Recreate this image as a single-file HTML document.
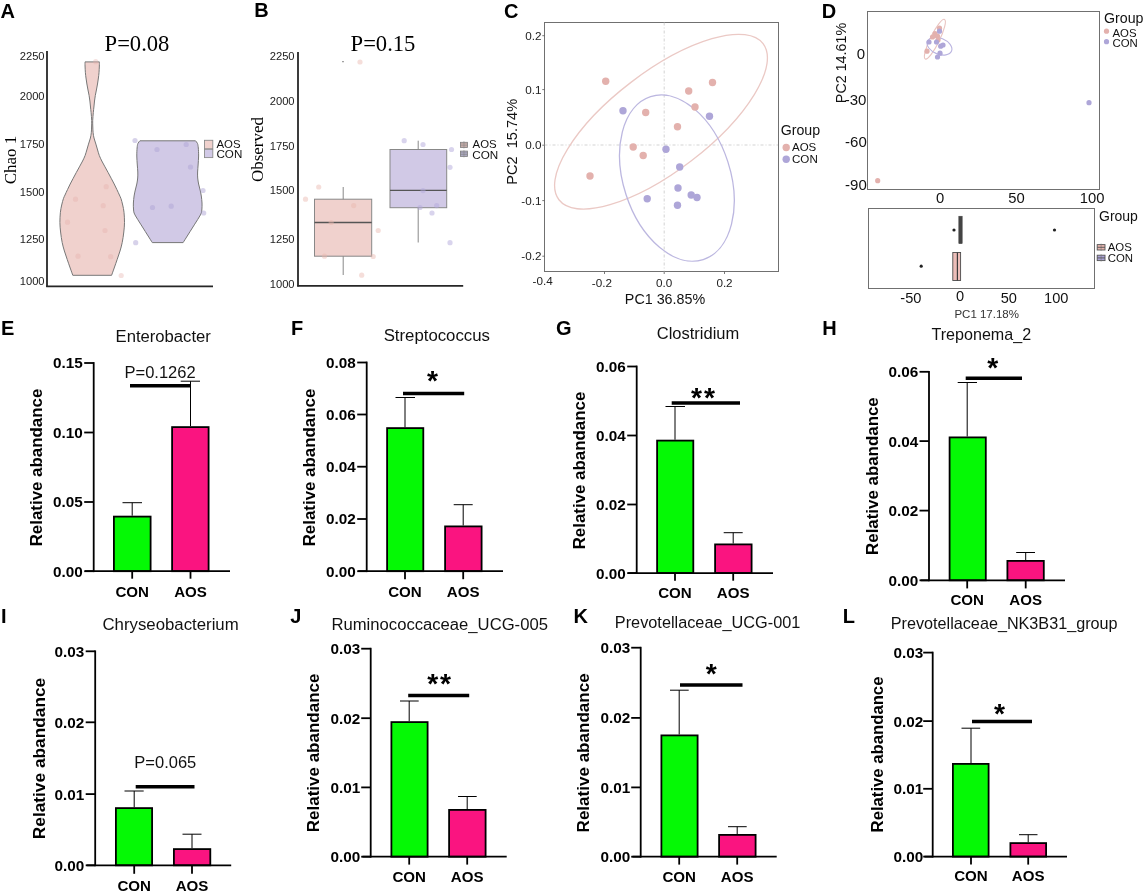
<!DOCTYPE html>
<html lang="en">
<head>
<meta charset="utf-8">
<title>Figure</title>
<style>
html,body{margin:0;padding:0;background:#fff;}
body{width:1143px;height:891px;overflow:hidden;}
svg{display:block;filter:blur(0.35px);}
.ss{font-family:'Liberation Sans', Arial, Helvetica, sans-serif;}
.sf{font-family:'Liberation Serif', 'Times New Roman', serif;}
</style>
</head>
<body>
<svg width="1143" height="891" viewBox="0 0 1143 891">
<rect x="0" y="0" width="1143" height="891" fill="#ffffff"/>
<text class="ss" x="0.50" y="17.50" font-size="20" font-weight="bold" fill="#000">A</text>
<text class="ss" x="254.20" y="17.30" font-size="20" font-weight="bold" fill="#000">B</text>
<text class="ss" x="504.00" y="18.00" font-size="20" font-weight="bold" fill="#000">C</text>
<text class="ss" x="821.70" y="18.00" font-size="20" font-weight="bold" fill="#000">D</text>
<text class="ss" x="1.00" y="335.00" font-size="20" font-weight="bold" fill="#000">E</text>
<text class="ss" x="291.00" y="334.50" font-size="20" font-weight="bold" fill="#000">F</text>
<text class="ss" x="556.00" y="334.90" font-size="20" font-weight="bold" fill="#000">G</text>
<text class="ss" x="822.30" y="335.00" font-size="20" font-weight="bold" fill="#000">H</text>
<text class="ss" x="1.00" y="622.50" font-size="20" font-weight="bold" fill="#000">I</text>
<text class="ss" x="290.30" y="623.00" font-size="20" font-weight="bold" fill="#000">J</text>
<text class="ss" x="573.50" y="622.50" font-size="20" font-weight="bold" fill="#000">K</text>
<text class="ss" x="842.80" y="623.00" font-size="20" font-weight="bold" fill="#000">L</text>
<text class="sf" x="137.00" y="50.70" font-size="22.6" text-anchor="middle" fill="#000">P=0.08</text>
<text class="ss" x="44.60" y="59.80" font-size="11.2" text-anchor="end" fill="#222">2250</text>
<text class="ss" x="44.60" y="99.70" font-size="11.2" text-anchor="end" fill="#222">2000</text>
<text class="ss" x="44.60" y="148.00" font-size="11.2" text-anchor="end" fill="#222">1750</text>
<text class="ss" x="44.60" y="195.60" font-size="11.2" text-anchor="end" fill="#222">1500</text>
<text class="ss" x="44.60" y="243.20" font-size="11.2" text-anchor="end" fill="#222">1250</text>
<text class="ss" x="44.60" y="285.20" font-size="11.2" text-anchor="end" fill="#222">1000</text>
<text class="sf" transform="translate(16.10,160.00) rotate(-90)" font-size="17" text-anchor="middle" fill="#000">Chao 1</text>
<path d="M85.00,61.90 C85.01,62.58 84.98,64.20 85.05,66.00 C85.12,67.80 85.24,70.70 85.40,72.70 C85.56,74.70 85.75,76.12 86.00,78.00 C86.25,79.88 86.57,82.00 86.90,84.00 C87.23,86.00 87.63,88.08 88.00,90.00 C88.37,91.92 88.78,93.67 89.10,95.50 C89.42,97.33 89.67,99.08 89.90,101.00 C90.13,102.92 90.30,105.07 90.50,107.00 C90.70,108.93 90.90,110.35 91.10,112.60 C91.30,114.85 91.62,118.10 91.70,120.50 C91.78,122.90 91.67,124.97 91.60,127.00 C91.53,129.03 91.50,130.87 91.30,132.70 C91.10,134.53 90.87,136.10 90.40,138.00 C89.93,139.90 89.10,142.10 88.50,144.10 C87.90,146.10 87.37,148.10 86.80,150.00 C86.23,151.90 85.80,153.67 85.10,155.50 C84.40,157.33 83.55,159.10 82.60,161.00 C81.65,162.90 80.45,164.98 79.40,166.90 C78.35,168.82 77.33,170.60 76.30,172.50 C75.27,174.40 74.22,176.38 73.20,178.30 C72.18,180.22 71.15,182.12 70.20,184.00 C69.25,185.88 68.37,187.77 67.50,189.60 C66.63,191.43 65.68,193.48 65.00,195.00 C64.32,196.52 63.95,197.03 63.40,198.70 C62.85,200.37 62.20,202.73 61.70,205.00 C61.20,207.27 60.70,209.40 60.40,212.30 C60.10,215.20 59.87,219.12 59.90,222.40 C59.93,225.68 60.22,228.63 60.60,232.00 C60.98,235.37 61.57,239.43 62.20,242.60 C62.83,245.77 63.57,248.20 64.40,251.00 C65.23,253.80 66.23,256.57 67.20,259.40 C68.17,262.23 69.27,265.35 70.20,268.00 C71.13,270.65 72.37,274.08 72.80,275.30 L111.60,275.30 C112.03,274.08 113.27,270.65 114.20,268.00 C115.13,265.35 116.23,262.23 117.20,259.40 C118.17,256.57 119.17,253.80 120.00,251.00 C120.83,248.20 121.57,245.77 122.20,242.60 C122.83,239.43 123.42,235.37 123.80,232.00 C124.18,228.63 124.47,225.68 124.50,222.40 C124.53,219.12 124.30,215.20 124.00,212.30 C123.70,209.40 123.20,207.27 122.70,205.00 C122.20,202.73 121.55,200.37 121.00,198.70 C120.45,197.03 120.08,196.52 119.40,195.00 C118.72,193.48 117.77,191.43 116.90,189.60 C116.03,187.77 115.15,185.88 114.20,184.00 C113.25,182.12 112.22,180.22 111.20,178.30 C110.18,176.38 109.13,174.40 108.10,172.50 C107.07,170.60 106.05,168.82 105.00,166.90 C103.95,164.98 102.75,162.90 101.80,161.00 C100.85,159.10 100.00,157.33 99.30,155.50 C98.60,153.67 98.17,151.90 97.60,150.00 C97.03,148.10 96.50,146.10 95.90,144.10 C95.30,142.10 94.47,139.90 94.00,138.00 C93.53,136.10 93.30,134.53 93.10,132.70 C92.90,130.87 92.87,129.03 92.80,127.00 C92.73,124.97 92.62,122.90 92.70,120.50 C92.78,118.10 93.10,114.85 93.30,112.60 C93.50,110.35 93.70,108.93 93.90,107.00 C94.10,105.07 94.27,102.92 94.50,101.00 C94.73,99.08 94.98,97.33 95.30,95.50 C95.62,93.67 96.03,91.92 96.40,90.00 C96.77,88.08 97.17,86.00 97.50,84.00 C97.83,82.00 98.15,79.88 98.40,78.00 C98.65,76.12 98.84,74.70 99.00,72.70 C99.16,70.70 99.28,67.80 99.35,66.00 C99.42,64.20 99.39,62.58 99.40,61.90 Z" fill="#f0d1cd" stroke="#777" stroke-width="1" stroke-linejoin="round"/>
<path d="M139.90,140.80 C139.57,141.25 138.37,142.30 137.90,143.50 C137.43,144.70 137.28,145.92 137.10,148.00 C136.92,150.08 136.77,153.17 136.80,156.00 C136.83,158.83 137.13,162.33 137.30,165.00 C137.47,167.67 137.73,169.83 137.80,172.00 C137.87,174.17 137.87,176.00 137.70,178.00 C137.53,180.00 137.20,182.00 136.80,184.00 C136.40,186.00 135.75,188.00 135.30,190.00 C134.85,192.00 134.42,193.83 134.10,196.00 C133.78,198.17 133.50,200.83 133.40,203.00 C133.30,205.17 133.38,207.33 133.50,209.00 C133.62,210.67 133.65,211.67 134.10,213.00 C134.55,214.33 135.33,215.50 136.20,217.00 C137.07,218.50 138.15,220.17 139.30,222.00 C140.45,223.83 141.73,225.83 143.10,228.00 C144.47,230.17 145.97,232.57 147.50,235.00 C149.03,237.43 151.50,241.33 152.30,242.60 L183.10,242.60 C183.90,241.33 186.37,237.43 187.90,235.00 C189.43,232.57 190.93,230.17 192.30,228.00 C193.67,225.83 194.95,223.83 196.10,222.00 C197.25,220.17 198.33,218.50 199.20,217.00 C200.07,215.50 200.85,214.33 201.30,213.00 C201.75,211.67 201.78,210.67 201.90,209.00 C202.02,207.33 202.10,205.17 202.00,203.00 C201.90,200.83 201.62,198.17 201.30,196.00 C200.98,193.83 200.55,192.00 200.10,190.00 C199.65,188.00 199.00,186.00 198.60,184.00 C198.20,182.00 197.87,180.00 197.70,178.00 C197.53,176.00 197.53,174.17 197.60,172.00 C197.67,169.83 197.93,167.67 198.10,165.00 C198.27,162.33 198.57,158.83 198.60,156.00 C198.63,153.17 198.48,150.08 198.30,148.00 C198.12,145.92 197.97,144.70 197.50,143.50 C197.03,142.30 195.83,141.25 195.50,140.80 Z" fill="#d1c9e6" stroke="#777" stroke-width="1" stroke-linejoin="round"/>
<circle cx="95.70" cy="61.70" r="2.6" fill="#e6b0aa" opacity="0.38"/>
<circle cx="106.20" cy="186.70" r="2.6" fill="#e6b0aa" opacity="0.38"/>
<circle cx="75.50" cy="199.20" r="2.6" fill="#e6b0aa" opacity="0.38"/>
<circle cx="103.20" cy="205.70" r="2.6" fill="#e6b0aa" opacity="0.38"/>
<circle cx="67.50" cy="222.20" r="2.6" fill="#e6b0aa" opacity="0.38"/>
<circle cx="105.00" cy="230.50" r="2.6" fill="#e6b0aa" opacity="0.38"/>
<circle cx="78.00" cy="256.20" r="2.6" fill="#e6b0aa" opacity="0.38"/>
<circle cx="110.70" cy="256.70" r="2.6" fill="#e6b0aa" opacity="0.38"/>
<circle cx="121.20" cy="275.50" r="2.6" fill="#e6b0aa" opacity="0.38"/>
<circle cx="135.00" cy="140.50" r="2.6" fill="#b0a6d6" opacity="0.5"/>
<circle cx="157.00" cy="149.50" r="2.6" fill="#b0a6d6" opacity="0.5"/>
<circle cx="186.20" cy="144.50" r="2.6" fill="#b0a6d6" opacity="0.5"/>
<circle cx="190.50" cy="167.00" r="2.6" fill="#b0a6d6" opacity="0.5"/>
<circle cx="203.00" cy="190.50" r="2.6" fill="#b0a6d6" opacity="0.5"/>
<circle cx="152.50" cy="207.50" r="2.6" fill="#b0a6d6" opacity="0.5"/>
<circle cx="171.20" cy="206.20" r="2.6" fill="#b0a6d6" opacity="0.5"/>
<circle cx="203.70" cy="213.00" r="2.6" fill="#b0a6d6" opacity="0.5"/>
<circle cx="135.70" cy="242.70" r="2.6" fill="#b0a6d6" opacity="0.5"/>
<line x1="47.00" y1="51.00" x2="47.00" y2="287.00" stroke="#262626" stroke-width="1.8"/>
<line x1="46.20" y1="286.30" x2="213.00" y2="286.30" stroke="#262626" stroke-width="1.8"/>
<rect x="204.50" y="140.30" width="8.30" height="8.50" fill="#f0d1cd" stroke="#8c8c8c" stroke-width="0.9"/>
<rect x="204.50" y="149.30" width="8.30" height="8.30" fill="#d1c9e6" stroke="#8c8c8c" stroke-width="0.9"/>
<text class="ss" x="216.50" y="148.40" font-size="11.4" fill="#111">AOS</text>
<text class="ss" x="216.50" y="157.90" font-size="11.6" fill="#111">CON</text>
<text class="sf" x="383.00" y="50.70" font-size="22.6" text-anchor="middle" fill="#000">P=0.15</text>
<text class="ss" x="294.60" y="59.80" font-size="11.2" text-anchor="end" fill="#222">2250</text>
<text class="ss" x="294.60" y="105.20" font-size="11.2" text-anchor="end" fill="#222">2000</text>
<text class="ss" x="294.60" y="149.70" font-size="11.2" text-anchor="end" fill="#222">1750</text>
<text class="ss" x="294.60" y="193.80" font-size="11.2" text-anchor="end" fill="#222">1500</text>
<text class="ss" x="294.60" y="243.20" font-size="11.2" text-anchor="end" fill="#222">1250</text>
<text class="ss" x="294.60" y="288.20" font-size="11.2" text-anchor="end" fill="#222">1000</text>
<text class="sf" transform="translate(262.80,149.50) rotate(-90)" font-size="17" text-anchor="middle" fill="#000">Observed</text>
<line x1="343.20" y1="187.00" x2="343.20" y2="275.00" stroke="#888" stroke-width="1"/>
<rect x="314.50" y="199.20" width="57.20" height="57.00" fill="#f0d1cd" stroke="#888" stroke-width="1"/>
<line x1="314.50" y1="222.50" x2="371.70" y2="222.50" stroke="#555" stroke-width="1.3"/>
<line x1="418.20" y1="140.70" x2="418.20" y2="242.50" stroke="#888" stroke-width="1"/>
<rect x="390.00" y="149.50" width="56.70" height="58.20" fill="#d1c9e6" stroke="#888" stroke-width="1"/>
<line x1="390.00" y1="190.30" x2="446.70" y2="190.30" stroke="#555" stroke-width="1.3"/>
<circle cx="360.00" cy="62.00" r="2.6" fill="#e9b5ae" opacity="0.45"/>
<circle cx="318.70" cy="187.00" r="2.6" fill="#e9b5ae" opacity="0.45"/>
<circle cx="305.50" cy="199.20" r="2.6" fill="#e9b5ae" opacity="0.45"/>
<circle cx="353.70" cy="205.60" r="2.6" fill="#e9b5ae" opacity="0.45"/>
<circle cx="331.20" cy="222.50" r="2.6" fill="#e9b5ae" opacity="0.45"/>
<circle cx="378.20" cy="230.50" r="2.6" fill="#e9b5ae" opacity="0.45"/>
<circle cx="324.50" cy="256.20" r="2.6" fill="#e9b5ae" opacity="0.45"/>
<circle cx="373.20" cy="256.50" r="2.6" fill="#e9b5ae" opacity="0.45"/>
<circle cx="361.70" cy="275.20" r="2.6" fill="#e9b5ae" opacity="0.45"/>
<circle cx="404.20" cy="140.70" r="2.6" fill="#b3a9dc" opacity="0.5"/>
<circle cx="423.00" cy="144.50" r="2.6" fill="#b3a9dc" opacity="0.5"/>
<circle cx="451.50" cy="149.50" r="2.6" fill="#b3a9dc" opacity="0.5"/>
<circle cx="450.00" cy="167.30" r="2.6" fill="#b3a9dc" opacity="0.5"/>
<circle cx="423.00" cy="190.60" r="2.6" fill="#b3a9dc" opacity="0.5"/>
<circle cx="420.00" cy="207.50" r="2.6" fill="#b3a9dc" opacity="0.5"/>
<circle cx="436.70" cy="205.60" r="2.6" fill="#b3a9dc" opacity="0.5"/>
<circle cx="432.00" cy="213.00" r="2.6" fill="#b3a9dc" opacity="0.5"/>
<circle cx="450.00" cy="242.70" r="2.6" fill="#b3a9dc" opacity="0.5"/>
<circle cx="343.00" cy="61.70" r="0.6" fill="#333"/>
<line x1="298.00" y1="52.00" x2="298.00" y2="286.50" stroke="#262626" stroke-width="1.8"/>
<line x1="297.20" y1="285.80" x2="463.20" y2="285.80" stroke="#262626" stroke-width="1.8"/>
<rect x="460.50" y="142.30" width="6.90" height="5.20" fill="#d9bab6" stroke="#7d7d7d" stroke-width="0.8"/>
<line x1="460.50" y1="144.00" x2="467.40" y2="144.00" stroke="#777" stroke-width="0.6"/>
<line x1="460.50" y1="145.80" x2="467.40" y2="145.80" stroke="#777" stroke-width="0.6"/>
<line x1="463.95" y1="141.20" x2="463.95" y2="148.50" stroke="#888" stroke-width="0.6"/>
<rect x="460.50" y="151.10" width="6.90" height="5.30" fill="#b4b0cc" stroke="#7d7d7d" stroke-width="0.8"/>
<line x1="460.50" y1="152.90" x2="467.40" y2="152.90" stroke="#777" stroke-width="0.6"/>
<line x1="460.50" y1="154.70" x2="467.40" y2="154.70" stroke="#777" stroke-width="0.6"/>
<line x1="463.95" y1="150.10" x2="463.95" y2="157.40" stroke="#888" stroke-width="0.6"/>
<text class="ss" x="472.60" y="148.40" font-size="11.4" fill="#111">AOS</text>
<text class="ss" x="472.30" y="159.00" font-size="11.7" fill="#111">CON</text>
<rect x="544.50" y="22.50" width="234.00" height="249.00" fill="none" stroke="#707070" stroke-width="1"/>
<line x1="664.20" y1="22.50" x2="664.20" y2="271.70" stroke="#c8c8c8" stroke-width="0.8" stroke-dasharray="3,2,1,2"/>
<line x1="544.50" y1="145.00" x2="778.00" y2="145.00" stroke="#c8c8c8" stroke-width="0.8" stroke-dasharray="3,2,1,2"/>
<text class="ss" x="541.40" y="39.80" font-size="11.7" text-anchor="end" fill="#222">0.2</text>
<line x1="542.30" y1="35.70" x2="544.50" y2="35.70" stroke="#555" stroke-width="0.8"/>
<text class="ss" x="541.40" y="93.70" font-size="11.7" text-anchor="end" fill="#222">0.1</text>
<line x1="542.30" y1="89.60" x2="544.50" y2="89.60" stroke="#555" stroke-width="0.8"/>
<text class="ss" x="541.40" y="149.30" font-size="11.7" text-anchor="end" fill="#222">0.0</text>
<line x1="542.30" y1="145.20" x2="544.50" y2="145.20" stroke="#555" stroke-width="0.8"/>
<text class="ss" x="541.40" y="204.70" font-size="11.7" text-anchor="end" fill="#222">-0.1</text>
<line x1="542.30" y1="200.60" x2="544.50" y2="200.60" stroke="#555" stroke-width="0.8"/>
<text class="ss" x="541.40" y="260.30" font-size="11.7" text-anchor="end" fill="#222">-0.2</text>
<line x1="542.30" y1="256.20" x2="544.50" y2="256.20" stroke="#555" stroke-width="0.8"/>
<text class="ss" x="542.60" y="285.30" font-size="11.7" text-anchor="middle" fill="#222">-0.4</text>
<text class="ss" x="601.90" y="287.10" font-size="11.7" text-anchor="middle" fill="#222">-0.2</text>
<text class="ss" x="664.20" y="287.10" font-size="11.7" text-anchor="middle" fill="#222">0.0</text>
<text class="ss" x="724.50" y="287.10" font-size="11.7" text-anchor="middle" fill="#222">0.2</text>
<line x1="604.50" y1="271.70" x2="604.50" y2="274.00" stroke="#555" stroke-width="0.8"/>
<line x1="664.20" y1="271.70" x2="664.20" y2="274.00" stroke="#555" stroke-width="0.8"/>
<line x1="724.50" y1="271.70" x2="724.50" y2="274.00" stroke="#555" stroke-width="0.8"/>
<text class="ss" x="665.00" y="304.30" font-size="14.3" text-anchor="middle" fill="#111">PC1 36.85%</text>
<text class="ss" transform="translate(516.80,141.80) rotate(-90)" font-size="14.6" text-anchor="middle" fill="#111">PC2&#160; 15.74%</text>
<ellipse cx="661" cy="121.7" rx="128.5" ry="49.5" transform="rotate(-37.4 661 121.7)" fill="none" stroke="#ebc9c5" stroke-width="1.3"/>
<ellipse cx="676.9" cy="178.1" rx="85.6" ry="53.5" transform="rotate(72.1 676.9 178.1)" fill="none" stroke="#bcb7e0" stroke-width="1.3"/>
<circle cx="605.70" cy="81.20" r="3.7" fill="#e3b1ad"/>
<circle cx="712.50" cy="82.50" r="3.7" fill="#e3b1ad"/>
<circle cx="688.70" cy="91.00" r="3.7" fill="#e3b1ad"/>
<circle cx="695.00" cy="107.00" r="3.7" fill="#e3b1ad"/>
<circle cx="645.70" cy="112.50" r="3.7" fill="#e3b1ad"/>
<circle cx="677.50" cy="126.70" r="3.7" fill="#e3b1ad"/>
<circle cx="633.20" cy="147.00" r="3.7" fill="#e3b1ad"/>
<circle cx="643.20" cy="155.50" r="3.7" fill="#e3b1ad"/>
<circle cx="590.00" cy="176.00" r="3.7" fill="#e3b1ad"/>
<circle cx="623.00" cy="110.70" r="3.7" fill="#aea6d8"/>
<circle cx="709.50" cy="116.20" r="3.7" fill="#aea6d8"/>
<circle cx="666.00" cy="149.20" r="3.7" fill="#aea6d8"/>
<circle cx="679.70" cy="167.00" r="3.7" fill="#aea6d8"/>
<circle cx="678.00" cy="188.00" r="3.7" fill="#aea6d8"/>
<circle cx="691.20" cy="195.00" r="3.7" fill="#aea6d8"/>
<circle cx="697.00" cy="197.50" r="3.7" fill="#aea6d8"/>
<circle cx="647.20" cy="198.70" r="3.7" fill="#aea6d8"/>
<circle cx="677.50" cy="205.20" r="3.7" fill="#aea6d8"/>
<text class="ss" x="780.70" y="135.00" font-size="14.2" fill="#111">Group</text>
<circle cx="786.20" cy="147.50" r="3.7" fill="#e3b1ad"/>
<circle cx="786.20" cy="159.20" r="3.7" fill="#aea6d8"/>
<text class="ss" x="792.00" y="150.60" font-size="11.5" fill="#111">AOS</text>
<text class="ss" x="792.00" y="162.90" font-size="11.6" fill="#111">CON</text>
<rect x="867.50" y="11.50" width="232.00" height="178.00" fill="none" stroke="#707070" stroke-width="1"/>
<text class="ss" x="865.00" y="58.50" font-size="15" text-anchor="end" fill="#111">0</text>
<text class="ss" x="866.40" y="104.50" font-size="15" text-anchor="end" fill="#111">-30</text>
<text class="ss" x="866.80" y="146.50" font-size="15" text-anchor="end" fill="#111">-60</text>
<text class="ss" x="866.80" y="189.80" font-size="15" text-anchor="end" fill="#111">-90</text>
<text class="ss" x="940.20" y="202.60" font-size="14.8" text-anchor="middle" fill="#111">0</text>
<text class="ss" x="1016.40" y="202.60" font-size="14.8" text-anchor="middle" fill="#111">50</text>
<text class="ss" x="1092.20" y="202.60" font-size="14.8" text-anchor="middle" fill="#111">100</text>
<text class="ss" transform="translate(846.40,63.00) rotate(-90)" font-size="14.3" text-anchor="middle" fill="#111">PC2 14.61%</text>
<ellipse cx="934.9" cy="39.2" rx="22" ry="4.6" transform="rotate(-64 934.9 39.2)" fill="none" stroke="#e9c4c0" stroke-width="1.1"/>
<ellipse cx="939.5" cy="46.2" rx="13" ry="8" transform="rotate(22 939.5 46.2)" fill="none" stroke="#bab4e0" stroke-width="1.1"/>
<circle cx="939.50" cy="28.20" r="2.6" fill="#e3b1ad"/>
<circle cx="935.00" cy="33.70" r="2.6" fill="#e3b1ad"/>
<circle cx="937.50" cy="36.20" r="2.6" fill="#e3b1ad"/>
<circle cx="927.00" cy="51.20" r="2.6" fill="#e3b1ad"/>
<circle cx="938.00" cy="40.00" r="2.6" fill="#e3b1ad"/>
<circle cx="932.50" cy="37.00" r="2.6" fill="#e3b1ad"/>
<circle cx="877.70" cy="180.70" r="2.6" fill="#e3b1ad"/>
<circle cx="939.50" cy="31.20" r="2.6" fill="#aea6d8"/>
<circle cx="929.00" cy="42.00" r="2.6" fill="#aea6d8"/>
<circle cx="936.50" cy="42.00" r="2.6" fill="#aea6d8"/>
<circle cx="940.70" cy="46.20" r="2.6" fill="#aea6d8"/>
<circle cx="943.00" cy="45.00" r="2.6" fill="#aea6d8"/>
<circle cx="940.00" cy="53.20" r="2.6" fill="#aea6d8"/>
<circle cx="937.50" cy="57.00" r="2.6" fill="#aea6d8"/>
<circle cx="1089.00" cy="102.70" r="2.6" fill="#aea6d8"/>
<text class="ss" x="1104.00" y="22.50" font-size="14.2" fill="#111">Group</text>
<circle cx="1106.50" cy="31.20" r="2.6" fill="#e3b1ad"/>
<circle cx="1106.50" cy="41.70" r="2.6" fill="#aea6d8"/>
<text class="ss" x="1112.50" y="36.60" font-size="11.4" fill="#111">AOS</text>
<text class="ss" x="1112.50" y="47.30" font-size="11.4" fill="#111">CON</text>
<rect x="868.50" y="208.50" width="226.00" height="80.00" fill="none" stroke="#707070" stroke-width="1"/>
<rect x="958.80" y="216.20" width="3.40" height="27.50" fill="#444" stroke="#444" stroke-width="0.5"/>
<circle cx="954.00" cy="230.00" r="1.6" fill="#222"/>
<circle cx="1054.50" cy="230.00" r="1.6" fill="#222"/>
<circle cx="921.20" cy="266.20" r="1.6" fill="#222"/>
<rect x="952.80" y="252.50" width="7.80" height="28.00" fill="#ecbdb8" stroke="#4a4a4a" stroke-width="0.9"/>
<line x1="957.40" y1="252.50" x2="957.40" y2="280.50" stroke="#3a3a3a" stroke-width="1.2"/>
<text class="ss" x="910.90" y="303.20" font-size="14.6" text-anchor="middle" fill="#111">-50</text>
<text class="ss" x="960.00" y="301.40" font-size="14.6" text-anchor="middle" fill="#111">0</text>
<text class="ss" x="1008.80" y="303.20" font-size="14.6" text-anchor="middle" fill="#111">50</text>
<text class="ss" x="1056.30" y="303.20" font-size="14.6" text-anchor="middle" fill="#111">100</text>
<text class="ss" x="986.70" y="317.80" font-size="11.5" text-anchor="middle" fill="#333">PC1 17.18%</text>
<text class="ss" x="1099.00" y="220.80" font-size="14" fill="#111">Group</text>
<rect x="1097.20" y="244.60" width="7.80" height="5.40" fill="#e6b4ae" stroke="#555" stroke-width="0.9"/>
<line x1="1101.10" y1="243.60" x2="1101.10" y2="251.00" stroke="#777" stroke-width="0.6"/>
<line x1="1097.20" y1="247.30" x2="1105.00" y2="247.30" stroke="#555" stroke-width="0.9"/>
<rect x="1097.20" y="255.20" width="7.80" height="5.40" fill="#a9a2d6" stroke="#555" stroke-width="0.9"/>
<line x1="1101.10" y1="254.20" x2="1101.10" y2="261.60" stroke="#777" stroke-width="0.6"/>
<line x1="1097.20" y1="257.90" x2="1105.00" y2="257.90" stroke="#555" stroke-width="0.9"/>
<text class="ss" x="1107.70" y="250.80" font-size="11.4" fill="#111">AOS</text>
<text class="ss" x="1107.70" y="262.30" font-size="11.4" fill="#111">CON</text>
<text class="ss" x="163.20" y="342.00" font-size="16.65" text-anchor="middle" fill="#111">Enterobacter</text>
<rect x="113.90" y="516.60" width="36.70" height="54.60" fill="#05f905" stroke="#000" stroke-width="1.8"/>
<rect x="172.10" y="427.10" width="36.50" height="144.10" fill="#fa1480" stroke="#000" stroke-width="1.8"/>
<line x1="132.20" y1="502.70" x2="132.20" y2="515.70" stroke="#000" stroke-width="1"/>
<line x1="122.50" y1="502.70" x2="142.00" y2="502.70" stroke="#000" stroke-width="1"/>
<line x1="190.50" y1="381.20" x2="190.50" y2="426.20" stroke="#000" stroke-width="1"/>
<line x1="180.70" y1="381.20" x2="200.00" y2="381.20" stroke="#000" stroke-width="1"/>
<line x1="93.70" y1="362.10" x2="93.70" y2="572.10" stroke="#000" stroke-width="1.8"/>
<line x1="85.00" y1="571.20" x2="230.00" y2="571.20" stroke="#000" stroke-width="1.8"/>
<line x1="84.20" y1="363.00" x2="93.70" y2="363.00" stroke="#000" stroke-width="1.8"/>
<text class="ss" x="82.70" y="368.40" font-size="15.3" font-weight="bold" text-anchor="end" fill="#000">0.15</text>
<line x1="84.20" y1="432.50" x2="93.70" y2="432.50" stroke="#000" stroke-width="1.8"/>
<text class="ss" x="82.70" y="437.90" font-size="15.3" font-weight="bold" text-anchor="end" fill="#000">0.10</text>
<line x1="84.20" y1="502.00" x2="93.70" y2="502.00" stroke="#000" stroke-width="1.8"/>
<text class="ss" x="82.70" y="507.40" font-size="15.3" font-weight="bold" text-anchor="end" fill="#000">0.05</text>
<line x1="84.20" y1="571.20" x2="93.70" y2="571.20" stroke="#000" stroke-width="1.8"/>
<text class="ss" x="82.70" y="576.60" font-size="15.3" font-weight="bold" text-anchor="end" fill="#000">0.00</text>
<line x1="132.20" y1="571.20" x2="132.20" y2="578.70" stroke="#000" stroke-width="1.8"/>
<text class="ss" x="132.20" y="597.00" font-size="15.1" font-weight="bold" text-anchor="middle" fill="#000">CON</text>
<line x1="190.50" y1="571.20" x2="190.50" y2="578.70" stroke="#000" stroke-width="1.8"/>
<text class="ss" x="190.50" y="597.00" font-size="15.1" font-weight="bold" text-anchor="middle" fill="#000">AOS</text>
<line x1="130.00" y1="385.70" x2="190.50" y2="385.70" stroke="#000" stroke-width="3.4"/>
<text class="ss" x="160.10" y="378.00" font-size="16.5" text-anchor="middle" fill="#111">P=0.1262</text>
<text class="ss" transform="translate(42.20,467.50) rotate(-90)" font-size="16.9" font-weight="bold" text-anchor="middle" fill="#000">Relative abandance</text>
<text class="ss" x="436.80" y="341.00" font-size="16.8" text-anchor="middle" fill="#111">Streptococcus</text>
<rect x="387.10" y="428.10" width="36.20" height="143.10" fill="#05f905" stroke="#000" stroke-width="1.8"/>
<rect x="445.10" y="526.40" width="36.50" height="44.80" fill="#fa1480" stroke="#000" stroke-width="1.8"/>
<line x1="405.00" y1="397.50" x2="405.00" y2="427.20" stroke="#000" stroke-width="1"/>
<line x1="395.50" y1="397.50" x2="415.00" y2="397.50" stroke="#000" stroke-width="1"/>
<line x1="463.20" y1="504.70" x2="463.20" y2="525.50" stroke="#000" stroke-width="1"/>
<line x1="453.70" y1="504.70" x2="472.70" y2="504.70" stroke="#000" stroke-width="1"/>
<line x1="366.70" y1="361.60" x2="366.70" y2="572.10" stroke="#000" stroke-width="1.8"/>
<line x1="358.20" y1="571.20" x2="503.00" y2="571.20" stroke="#000" stroke-width="1.8"/>
<line x1="357.20" y1="362.50" x2="366.70" y2="362.50" stroke="#000" stroke-width="1.8"/>
<text class="ss" x="355.70" y="367.90" font-size="15.3" font-weight="bold" text-anchor="end" fill="#000">0.08</text>
<line x1="357.20" y1="414.50" x2="366.70" y2="414.50" stroke="#000" stroke-width="1.8"/>
<text class="ss" x="355.70" y="419.90" font-size="15.3" font-weight="bold" text-anchor="end" fill="#000">0.06</text>
<line x1="357.20" y1="466.70" x2="366.70" y2="466.70" stroke="#000" stroke-width="1.8"/>
<text class="ss" x="355.70" y="472.10" font-size="15.3" font-weight="bold" text-anchor="end" fill="#000">0.04</text>
<line x1="357.20" y1="519.00" x2="366.70" y2="519.00" stroke="#000" stroke-width="1.8"/>
<text class="ss" x="355.70" y="524.40" font-size="15.3" font-weight="bold" text-anchor="end" fill="#000">0.02</text>
<line x1="357.20" y1="571.20" x2="366.70" y2="571.20" stroke="#000" stroke-width="1.8"/>
<text class="ss" x="355.70" y="576.60" font-size="15.3" font-weight="bold" text-anchor="end" fill="#000">0.00</text>
<line x1="405.00" y1="571.20" x2="405.00" y2="579.20" stroke="#000" stroke-width="1.8"/>
<text class="ss" x="405.00" y="597.00" font-size="15.1" font-weight="bold" text-anchor="middle" fill="#000">CON</text>
<line x1="463.20" y1="571.20" x2="463.20" y2="579.20" stroke="#000" stroke-width="1.8"/>
<text class="ss" x="463.20" y="597.00" font-size="15.1" font-weight="bold" text-anchor="middle" fill="#000">AOS</text>
<line x1="403.00" y1="393.50" x2="464.20" y2="393.50" stroke="#000" stroke-width="3.4"/>
<text class="ss" x="432.50" y="389.90" font-size="28.3" font-weight="bold" text-anchor="middle" fill="#000">*</text>
<text class="ss" transform="translate(315.20,467.50) rotate(-90)" font-size="16.9" font-weight="bold" text-anchor="middle" fill="#000">Relative abandance</text>
<text class="ss" x="698.00" y="338.90" font-size="16.5" text-anchor="middle" fill="#111">Clostridium</text>
<rect x="657.10" y="440.60" width="36.20" height="132.50" fill="#05f905" stroke="#000" stroke-width="1.8"/>
<rect x="715.10" y="544.40" width="36.50" height="28.70" fill="#fa1480" stroke="#000" stroke-width="1.8"/>
<line x1="675.00" y1="406.50" x2="675.00" y2="439.70" stroke="#000" stroke-width="1"/>
<line x1="665.50" y1="406.50" x2="685.00" y2="406.50" stroke="#000" stroke-width="1"/>
<line x1="733.20" y1="532.70" x2="733.20" y2="543.50" stroke="#000" stroke-width="1"/>
<line x1="723.70" y1="532.70" x2="742.70" y2="532.70" stroke="#000" stroke-width="1"/>
<line x1="636.70" y1="365.60" x2="636.70" y2="574.00" stroke="#000" stroke-width="1.8"/>
<line x1="628.20" y1="573.10" x2="773.00" y2="573.10" stroke="#000" stroke-width="1.8"/>
<line x1="627.20" y1="366.50" x2="636.70" y2="366.50" stroke="#000" stroke-width="1.8"/>
<text class="ss" x="625.70" y="371.90" font-size="15.3" font-weight="bold" text-anchor="end" fill="#000">0.06</text>
<line x1="627.20" y1="435.50" x2="636.70" y2="435.50" stroke="#000" stroke-width="1.8"/>
<text class="ss" x="625.70" y="440.90" font-size="15.3" font-weight="bold" text-anchor="end" fill="#000">0.04</text>
<line x1="627.20" y1="504.50" x2="636.70" y2="504.50" stroke="#000" stroke-width="1.8"/>
<text class="ss" x="625.70" y="509.90" font-size="15.3" font-weight="bold" text-anchor="end" fill="#000">0.02</text>
<line x1="627.20" y1="573.10" x2="636.70" y2="573.10" stroke="#000" stroke-width="1.8"/>
<text class="ss" x="625.70" y="578.50" font-size="15.3" font-weight="bold" text-anchor="end" fill="#000">0.00</text>
<line x1="675.00" y1="573.10" x2="675.00" y2="580.70" stroke="#000" stroke-width="1.8"/>
<text class="ss" x="675.00" y="598.00" font-size="15.1" font-weight="bold" text-anchor="middle" fill="#000">CON</text>
<line x1="733.20" y1="573.10" x2="733.20" y2="580.70" stroke="#000" stroke-width="1.8"/>
<text class="ss" x="733.20" y="598.00" font-size="15.1" font-weight="bold" text-anchor="middle" fill="#000">AOS</text>
<line x1="671.70" y1="403.00" x2="740.00" y2="403.00" stroke="#000" stroke-width="3.4"/>
<text class="ss" x="703.90" y="406.90" font-size="28.3" font-weight="bold" text-anchor="middle" fill="#000" letter-spacing="1.8">**</text>
<text class="ss" transform="translate(585.20,470.50) rotate(-90)" font-size="16.9" font-weight="bold" text-anchor="middle" fill="#000">Relative abandance</text>
<text class="ss" x="981.30" y="340.00" font-size="16.1" text-anchor="middle" fill="#111">Treponema_2</text>
<rect x="949.60" y="437.40" width="36.20" height="142.90" fill="#05f905" stroke="#000" stroke-width="1.8"/>
<rect x="1007.40" y="560.90" width="36.40" height="19.40" fill="#fa1480" stroke="#000" stroke-width="1.8"/>
<line x1="967.20" y1="382.50" x2="967.20" y2="436.50" stroke="#000" stroke-width="1"/>
<line x1="957.70" y1="382.50" x2="977.00" y2="382.50" stroke="#000" stroke-width="1"/>
<line x1="1025.70" y1="552.50" x2="1025.70" y2="560.00" stroke="#000" stroke-width="1"/>
<line x1="1016.20" y1="552.50" x2="1035.00" y2="552.50" stroke="#000" stroke-width="1"/>
<line x1="929.00" y1="370.90" x2="929.00" y2="581.20" stroke="#000" stroke-width="1.8"/>
<line x1="920.70" y1="580.30" x2="1065.00" y2="580.30" stroke="#000" stroke-width="1.8"/>
<line x1="919.50" y1="371.80" x2="929.00" y2="371.80" stroke="#000" stroke-width="1.8"/>
<text class="ss" x="918.20" y="377.20" font-size="15.3" font-weight="bold" text-anchor="end" fill="#000">0.06</text>
<line x1="919.50" y1="441.10" x2="929.00" y2="441.10" stroke="#000" stroke-width="1.8"/>
<text class="ss" x="918.20" y="446.50" font-size="15.3" font-weight="bold" text-anchor="end" fill="#000">0.04</text>
<line x1="919.50" y1="510.60" x2="929.00" y2="510.60" stroke="#000" stroke-width="1.8"/>
<text class="ss" x="918.20" y="516.00" font-size="15.3" font-weight="bold" text-anchor="end" fill="#000">0.02</text>
<line x1="919.50" y1="580.30" x2="929.00" y2="580.30" stroke="#000" stroke-width="1.8"/>
<text class="ss" x="918.20" y="585.70" font-size="15.3" font-weight="bold" text-anchor="end" fill="#000">0.00</text>
<line x1="967.20" y1="580.30" x2="967.20" y2="588.40" stroke="#000" stroke-width="1.8"/>
<text class="ss" x="967.20" y="605.30" font-size="15.1" font-weight="bold" text-anchor="middle" fill="#000">CON</text>
<line x1="1025.70" y1="580.30" x2="1025.70" y2="588.40" stroke="#000" stroke-width="1.8"/>
<text class="ss" x="1025.70" y="605.30" font-size="15.1" font-weight="bold" text-anchor="middle" fill="#000">AOS</text>
<line x1="965.70" y1="378.20" x2="1022.00" y2="378.20" stroke="#000" stroke-width="3.4"/>
<text class="ss" x="992.70" y="376.90" font-size="28.3" font-weight="bold" text-anchor="middle" fill="#000">*</text>
<text class="ss" transform="translate(877.50,476.10) rotate(-90)" font-size="16.9" font-weight="bold" text-anchor="middle" fill="#000">Relative abandance</text>
<text class="ss" x="170.60" y="629.50" font-size="16.8" text-anchor="middle" fill="#111">Chryseobacterium</text>
<rect x="115.90" y="808.10" width="36.20" height="57.20" fill="#05f905" stroke="#000" stroke-width="1.8"/>
<rect x="173.90" y="849.10" width="36.40" height="16.20" fill="#fa1480" stroke="#000" stroke-width="1.8"/>
<line x1="134.20" y1="791.00" x2="134.20" y2="807.20" stroke="#000" stroke-width="1"/>
<line x1="124.50" y1="791.00" x2="143.70" y2="791.00" stroke="#000" stroke-width="1"/>
<line x1="192.00" y1="834.20" x2="192.00" y2="848.20" stroke="#000" stroke-width="1"/>
<line x1="182.50" y1="834.20" x2="201.50" y2="834.20" stroke="#000" stroke-width="1"/>
<line x1="95.20" y1="650.40" x2="95.20" y2="866.20" stroke="#000" stroke-width="1.8"/>
<line x1="86.70" y1="865.30" x2="231.20" y2="865.30" stroke="#000" stroke-width="1.8"/>
<line x1="85.70" y1="651.30" x2="95.20" y2="651.30" stroke="#000" stroke-width="1.8"/>
<text class="ss" x="84.40" y="656.70" font-size="15.3" font-weight="bold" text-anchor="end" fill="#000">0.03</text>
<line x1="85.70" y1="722.30" x2="95.20" y2="722.30" stroke="#000" stroke-width="1.8"/>
<text class="ss" x="84.40" y="727.70" font-size="15.3" font-weight="bold" text-anchor="end" fill="#000">0.02</text>
<line x1="85.70" y1="794.10" x2="95.20" y2="794.10" stroke="#000" stroke-width="1.8"/>
<text class="ss" x="84.40" y="799.50" font-size="15.3" font-weight="bold" text-anchor="end" fill="#000">0.01</text>
<line x1="85.70" y1="865.30" x2="95.20" y2="865.30" stroke="#000" stroke-width="1.8"/>
<text class="ss" x="84.40" y="870.70" font-size="15.3" font-weight="bold" text-anchor="end" fill="#000">0.00</text>
<line x1="134.20" y1="865.30" x2="134.20" y2="873.80" stroke="#000" stroke-width="1.8"/>
<text class="ss" x="134.20" y="890.80" font-size="15.1" font-weight="bold" text-anchor="middle" fill="#000">CON</text>
<line x1="192.00" y1="865.30" x2="192.00" y2="873.80" stroke="#000" stroke-width="1.8"/>
<text class="ss" x="192.00" y="890.80" font-size="15.1" font-weight="bold" text-anchor="middle" fill="#000">AOS</text>
<line x1="135.70" y1="786.70" x2="194.50" y2="786.70" stroke="#000" stroke-width="3.4"/>
<text class="ss" x="165.30" y="768.00" font-size="16.5" text-anchor="middle" fill="#111">P=0.065</text>
<text class="ss" transform="translate(44.70,758.50) rotate(-90)" font-size="17.3" font-weight="bold" text-anchor="middle" fill="#000">Relative abandance</text>
<text class="ss" x="439.70" y="629.50" font-size="16.65" text-anchor="middle" fill="#111">Ruminococcaceae_UCG-005</text>
<rect x="391.40" y="722.10" width="36.20" height="134.60" fill="#05f905" stroke="#000" stroke-width="1.8"/>
<rect x="449.10" y="809.90" width="36.50" height="46.80" fill="#fa1480" stroke="#000" stroke-width="1.8"/>
<line x1="409.20" y1="701.00" x2="409.20" y2="721.20" stroke="#000" stroke-width="1"/>
<line x1="400.00" y1="701.00" x2="418.70" y2="701.00" stroke="#000" stroke-width="1"/>
<line x1="467.20" y1="796.50" x2="467.20" y2="809.00" stroke="#000" stroke-width="1"/>
<line x1="458.00" y1="796.50" x2="476.70" y2="796.50" stroke="#000" stroke-width="1"/>
<line x1="370.70" y1="647.80" x2="370.70" y2="857.60" stroke="#000" stroke-width="1.8"/>
<line x1="362.50" y1="856.70" x2="506.70" y2="856.70" stroke="#000" stroke-width="1.8"/>
<line x1="361.20" y1="648.70" x2="370.70" y2="648.70" stroke="#000" stroke-width="1.8"/>
<text class="ss" x="360.20" y="654.10" font-size="15.3" font-weight="bold" text-anchor="end" fill="#000">0.03</text>
<line x1="361.20" y1="718.20" x2="370.70" y2="718.20" stroke="#000" stroke-width="1.8"/>
<text class="ss" x="360.20" y="723.60" font-size="15.3" font-weight="bold" text-anchor="end" fill="#000">0.02</text>
<line x1="361.20" y1="787.40" x2="370.70" y2="787.40" stroke="#000" stroke-width="1.8"/>
<text class="ss" x="360.20" y="792.80" font-size="15.3" font-weight="bold" text-anchor="end" fill="#000">0.01</text>
<line x1="361.20" y1="856.70" x2="370.70" y2="856.70" stroke="#000" stroke-width="1.8"/>
<text class="ss" x="360.20" y="862.10" font-size="15.3" font-weight="bold" text-anchor="end" fill="#000">0.00</text>
<line x1="409.20" y1="856.70" x2="409.20" y2="864.60" stroke="#000" stroke-width="1.8"/>
<text class="ss" x="409.20" y="882.20" font-size="15.1" font-weight="bold" text-anchor="middle" fill="#000">CON</text>
<line x1="467.20" y1="856.70" x2="467.20" y2="864.60" stroke="#000" stroke-width="1.8"/>
<text class="ss" x="467.20" y="882.20" font-size="15.1" font-weight="bold" text-anchor="middle" fill="#000">AOS</text>
<line x1="408.20" y1="695.50" x2="469.20" y2="695.50" stroke="#000" stroke-width="3.4"/>
<text class="ss" x="440.00" y="693.40" font-size="28.3" font-weight="bold" text-anchor="middle" fill="#000" letter-spacing="1.8">**</text>
<text class="ss" transform="translate(319.20,752.90) rotate(-90)" font-size="17.0" font-weight="bold" text-anchor="middle" fill="#000">Relative abandance</text>
<text class="ss" x="707.60" y="628.00" font-size="16.3" text-anchor="middle" fill="#111">Prevotellaceae_UCG-001</text>
<rect x="661.40" y="735.40" width="36.20" height="121.30" fill="#05f905" stroke="#000" stroke-width="1.8"/>
<rect x="719.10" y="834.90" width="36.50" height="21.80" fill="#fa1480" stroke="#000" stroke-width="1.8"/>
<line x1="679.20" y1="690.20" x2="679.20" y2="734.50" stroke="#000" stroke-width="1"/>
<line x1="670.00" y1="690.20" x2="688.70" y2="690.20" stroke="#000" stroke-width="1"/>
<line x1="737.20" y1="826.70" x2="737.20" y2="834.00" stroke="#000" stroke-width="1"/>
<line x1="728.00" y1="826.70" x2="746.70" y2="826.70" stroke="#000" stroke-width="1"/>
<line x1="640.70" y1="646.80" x2="640.70" y2="857.60" stroke="#000" stroke-width="1.8"/>
<line x1="632.50" y1="856.70" x2="776.70" y2="856.70" stroke="#000" stroke-width="1.8"/>
<line x1="631.20" y1="647.70" x2="640.70" y2="647.70" stroke="#000" stroke-width="1.8"/>
<text class="ss" x="630.20" y="653.10" font-size="15.3" font-weight="bold" text-anchor="end" fill="#000">0.03</text>
<line x1="631.20" y1="717.90" x2="640.70" y2="717.90" stroke="#000" stroke-width="1.8"/>
<text class="ss" x="630.20" y="723.30" font-size="15.3" font-weight="bold" text-anchor="end" fill="#000">0.02</text>
<line x1="631.20" y1="787.40" x2="640.70" y2="787.40" stroke="#000" stroke-width="1.8"/>
<text class="ss" x="630.20" y="792.80" font-size="15.3" font-weight="bold" text-anchor="end" fill="#000">0.01</text>
<line x1="631.20" y1="856.70" x2="640.70" y2="856.70" stroke="#000" stroke-width="1.8"/>
<text class="ss" x="630.20" y="862.10" font-size="15.3" font-weight="bold" text-anchor="end" fill="#000">0.00</text>
<line x1="679.20" y1="856.70" x2="679.20" y2="864.60" stroke="#000" stroke-width="1.8"/>
<text class="ss" x="679.20" y="882.20" font-size="15.1" font-weight="bold" text-anchor="middle" fill="#000">CON</text>
<line x1="737.20" y1="856.70" x2="737.20" y2="864.60" stroke="#000" stroke-width="1.8"/>
<text class="ss" x="737.20" y="882.20" font-size="15.1" font-weight="bold" text-anchor="middle" fill="#000">AOS</text>
<line x1="680.00" y1="685.00" x2="742.50" y2="685.00" stroke="#000" stroke-width="3.4"/>
<text class="ss" x="711.20" y="682.90" font-size="28.3" font-weight="bold" text-anchor="middle" fill="#000">*</text>
<text class="ss" transform="translate(589.20,752.90) rotate(-90)" font-size="17.05" font-weight="bold" text-anchor="middle" fill="#000">Relative abandance</text>
<text class="ss" x="1004.20" y="629.20" font-size="16.2" text-anchor="middle" fill="#111">Prevotellaceae_NK3B31_group</text>
<rect x="952.90" y="763.90" width="35.70" height="92.70" fill="#05f905" stroke="#000" stroke-width="1.8"/>
<rect x="1010.40" y="843.10" width="35.70" height="13.50" fill="#fa1480" stroke="#000" stroke-width="1.8"/>
<line x1="971.00" y1="728.20" x2="971.00" y2="763.00" stroke="#000" stroke-width="1"/>
<line x1="961.50" y1="728.20" x2="980.20" y2="728.20" stroke="#000" stroke-width="1"/>
<line x1="1028.20" y1="834.70" x2="1028.20" y2="842.20" stroke="#000" stroke-width="1"/>
<line x1="1019.00" y1="834.70" x2="1037.50" y2="834.70" stroke="#000" stroke-width="1"/>
<line x1="932.70" y1="651.70" x2="932.70" y2="857.50" stroke="#000" stroke-width="1.8"/>
<line x1="924.50" y1="856.60" x2="1067.00" y2="856.60" stroke="#000" stroke-width="1.8"/>
<line x1="923.20" y1="652.60" x2="932.70" y2="652.60" stroke="#000" stroke-width="1.8"/>
<text class="ss" x="923.20" y="658.00" font-size="15.3" font-weight="bold" text-anchor="end" fill="#000">0.03</text>
<line x1="923.20" y1="721.10" x2="932.70" y2="721.10" stroke="#000" stroke-width="1.8"/>
<text class="ss" x="923.20" y="726.50" font-size="15.3" font-weight="bold" text-anchor="end" fill="#000">0.02</text>
<line x1="923.20" y1="788.80" x2="932.70" y2="788.80" stroke="#000" stroke-width="1.8"/>
<text class="ss" x="923.20" y="794.20" font-size="15.3" font-weight="bold" text-anchor="end" fill="#000">0.01</text>
<line x1="923.20" y1="856.60" x2="932.70" y2="856.60" stroke="#000" stroke-width="1.8"/>
<text class="ss" x="923.20" y="862.00" font-size="15.3" font-weight="bold" text-anchor="end" fill="#000">0.00</text>
<line x1="971.00" y1="856.60" x2="971.00" y2="864.60" stroke="#000" stroke-width="1.8"/>
<text class="ss" x="971.00" y="881.20" font-size="15.1" font-weight="bold" text-anchor="middle" fill="#000">CON</text>
<line x1="1028.20" y1="856.60" x2="1028.20" y2="864.60" stroke="#000" stroke-width="1.8"/>
<text class="ss" x="1028.20" y="881.20" font-size="15.1" font-weight="bold" text-anchor="middle" fill="#000">AOS</text>
<line x1="972.00" y1="721.50" x2="1032.00" y2="721.50" stroke="#000" stroke-width="3.4"/>
<text class="ss" x="999.50" y="723.40" font-size="28.3" font-weight="bold" text-anchor="middle" fill="#000">*</text>
<text class="ss" transform="translate(882.50,754.50) rotate(-90)" font-size="16.7" font-weight="bold" text-anchor="middle" fill="#000">Relative abandance</text>
</svg>
</body>
</html>
